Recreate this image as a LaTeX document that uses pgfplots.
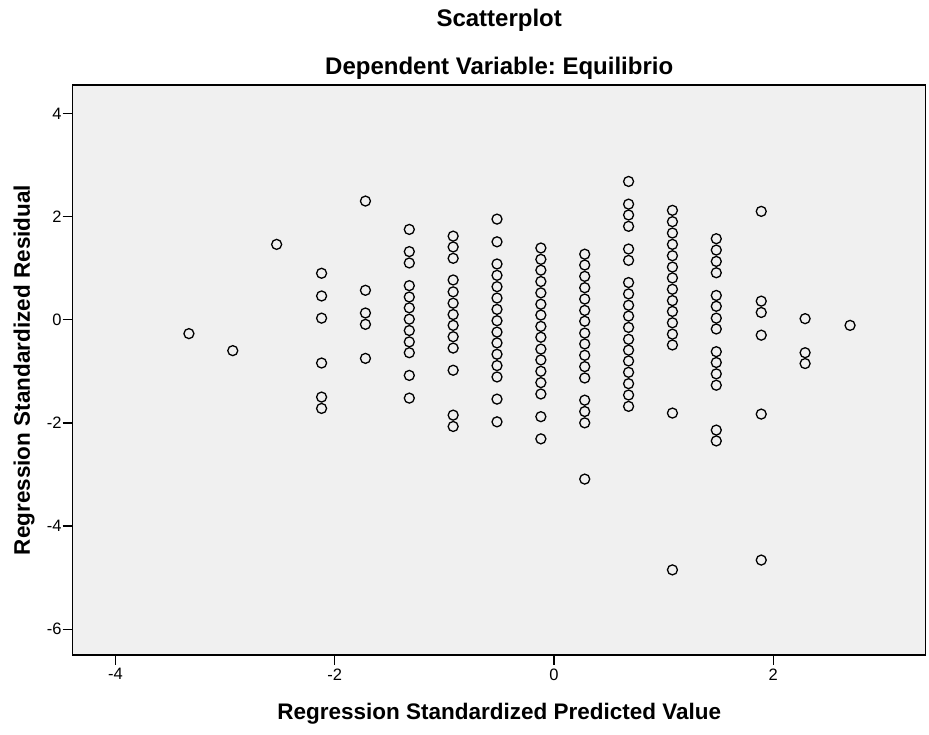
\documentclass[border=0pt]{standalone}
\usepackage{fontspec}
\setmainfont{Liberation Sans}
\frenchspacing
\usepackage{pgfplots}
\pgfplotsset{compat=1.18}
\definecolor{panel}{HTML}{F0F0F0}

\begin{document}
\begin{tikzpicture}
\useasboundingbox (-72.7pt,-80pt) rectangle (856.3pt,655pt);
\begin{axis}[
    at={(0,0)}, anchor=south west,
    scale only axis,
    width=853pt, height=570pt,
    xmin=-4.39, xmax=3.39,
    ymin=-6.5, ymax=4.55,
    xtick={-4,-2,0,2},
    ytick={-6,-4,-2,0,2,4},
    xtick pos=bottom, ytick pos=left,
    tick align=outside,
    major tick length=10pt,
    tick style={black, line width=1.3pt},
    axis line style={black, line width=1.5pt},
    axis background/.style={fill=panel},
    /pgf/number format/assume math mode=true,
    tick label style={font=\fontsize{16.5}{19}\selectfont},
    yticklabel style={inner xsep=1pt},
    clip=false,
]
\addplot[only marks, mark=o, mark size=5pt, mark options={black, line width=1.3pt, fill=none}]
    table {
x y
-3.33 -0.27
-2.93 -0.60
-2.53 1.46
-2.12 0.90
-2.12 0.46
-2.12 0.03
-2.12 -0.84
-2.12 -1.50
-2.12 -1.72
-1.72 2.30
-1.72 0.57
-1.72 0.13
-1.72 -0.09
-1.72 -0.75
-1.32 1.75
-1.32 1.32
-1.32 1.10
-1.32 0.66
-1.32 0.44
-1.32 0.23
-1.32 0.01
-1.32 -0.21
-1.32 -0.43
-1.32 -0.64
-1.32 -1.08
-1.32 -1.52
-0.92 1.62
-0.92 1.41
-0.92 1.19
-0.92 0.77
-0.92 0.54
-0.92 0.32
-0.92 0.10
-0.92 -0.11
-0.92 -0.33
-0.92 -0.55
-0.92 -0.98
-0.92 -1.85
-0.92 -2.07
-0.52 1.95
-0.52 1.51
-0.52 1.08
-0.52 0.86
-0.52 0.64
-0.52 0.42
-0.52 0.20
-0.52 -0.02
-0.52 -0.24
-0.52 -0.45
-0.52 -0.67
-0.52 -0.89
-0.52 -1.11
-0.52 -1.54
-0.52 -1.98
-0.12 1.39
-0.12 1.17
-0.12 0.96
-0.12 0.74
-0.12 0.52
-0.12 0.30
-0.12 0.09
-0.12 -0.13
-0.12 -0.34
-0.12 -0.57
-0.12 -0.78
-0.12 -1.00
-0.12 -1.22
-0.12 -1.44
-0.12 -1.88
-0.12 -2.31
0.28 1.27
0.28 1.06
0.28 0.84
0.28 0.62
0.28 0.40
0.28 0.18
0.28 -0.03
0.28 -0.26
0.28 -0.47
0.28 -0.69
0.28 -0.91
0.28 -1.13
0.28 -1.56
0.28 -1.78
0.28 -2.00
0.28 -3.09
0.68 2.68
0.68 2.24
0.68 2.03
0.68 1.81
0.68 1.37
0.68 1.15
0.68 0.72
0.68 0.50
0.68 0.28
0.68 0.07
0.68 -0.15
0.68 -0.38
0.68 -0.59
0.68 -0.80
0.68 -1.02
0.68 -1.24
0.68 -1.46
0.68 -1.68
1.08 2.12
1.08 1.90
1.08 1.68
1.08 1.46
1.08 1.24
1.08 1.02
1.08 0.81
1.08 0.59
1.08 0.37
1.08 0.16
1.08 -0.06
1.08 -0.28
1.08 -0.49
1.08 -1.81
1.08 -4.85
1.48 1.57
1.48 1.35
1.48 1.13
1.48 0.91
1.48 0.47
1.48 0.26
1.48 0.03
1.48 -0.18
1.48 -0.62
1.48 -0.83
1.48 -1.05
1.48 -1.27
1.48 -2.14
1.48 -2.35
1.89 2.10
1.89 0.36
1.89 0.14
1.89 -0.30
1.89 -1.83
1.89 -4.66
2.29 0.02
2.29 -0.64
2.29 -0.85
2.70 -0.11
};
\node[anchor=base, font=\bfseries\fontsize{24}{28}\selectfont, yshift=58pt] at (rel axis cs:0.5,1) {Scatterplot};
\node[anchor=base, font=\bfseries\fontsize{24}{28}\selectfont, yshift=10pt] at (rel axis cs:0.5,1) {Dependent Variable: Equilibrio};
\node[anchor=base, font=\bfseries\fontsize{22.5}{27}\selectfont, yshift=-65pt] at (rel axis cs:0.5,0) {Regression Standardized Predicted Value};
\node[xshift=-42.7pt, rotate=90, anchor=base, font=\bfseries\fontsize{22.5}{27}\selectfont] at (rel axis cs:0,0.5) {Regression Standardized Residual};
\end{axis}
\end{tikzpicture}
\end{document}
